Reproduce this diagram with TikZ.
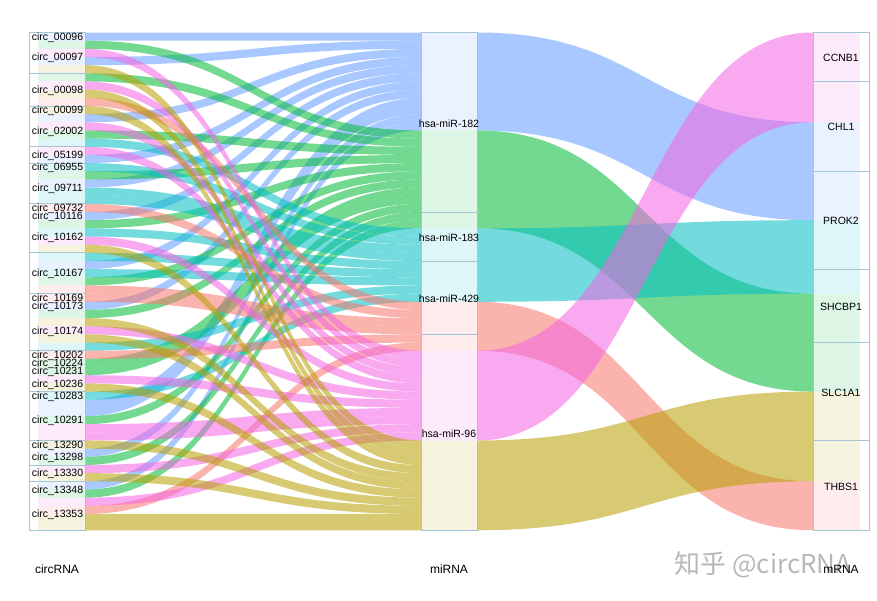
\documentclass[tikz,border=0pt]{standalone}
\usepackage{fontspec}
\setmainfont{Liberation Sans}
\newfontfamily\zhfont{Noto Sans CJK SC}
\definecolor{flowblue}{HTML}{619CFF}
\definecolor{flowgreen}{HTML}{00BA38}
\definecolor{flowcyan}{HTML}{00BFC4}
\definecolor{flowsalmon}{HTML}{F8766D}
\definecolor{flowpink}{HTML}{F564E3}
\definecolor{flowolive}{HTML}{B79F00}
\definecolor{boxline}{HTML}{A3C6D6}
\tikzset{
  flow/.style={fill opacity=.55},
  pale/.style={fill opacity=.13},
  stratum/.style={draw=boxline, line width=.8pt},
  lab/.style={font=\fontsize{10.5}{12}\selectfont, inner sep=0pt},
  axislab/.style={font=\fontsize{12}{14}\selectfont, inner sep=0pt},
}

\begin{document}
\begin{tikzpicture}[x=1pt, y=-1pt]

  \useasboundingbox (0,0) rectangle (877,600);
  \fill[white] (0,0) rectangle (877,600);

  \newcommand\Hs{8.16}   %% height of one link
  \newcommand\Ytop{32.5}
  \newcommand\Lx{85}
  \newcommand\Mx{421}
  \newcommand\Nx{477}
  \newcommand\Rx{813}

  %% circRNA -> miRNA, one thin flow per link
  \newcommand\linkflows[3]{%
    \foreach \l [count=\i from #2] in {#3} {
      \pgfmathsetmacro\ya{\Ytop+\l*\Hs}
      \pgfmathsetmacro\yb{\Ytop+\i*\Hs}
      \fill[#1, flow] (\Lx,\ya) .. controls (253,\ya) and (253,\yb) .. (\Mx,\yb)
        -- (\Mx,\yb+\Hs) .. controls (253,\yb+\Hs) and (253,\ya+\Hs) .. (\Lx,\ya+\Hs) -- cycle;
      \fill[#1, pale] (38,\ya) rectangle (\Lx,\ya+\Hs);
    }}

  \linkflows{flowblue}{0}{0,3,10,15,18,22,28,33,45,46,51,55}
  \linkflows{flowgreen}{12}{1,5,12,17,23,30,34,40,41,47,52,56}
  \linkflows{flowcyan}{24}{13,16,19,20,24,27,29,38,44}
  \linkflows{flowsalmon}{33}{8,21,31,32,39,58}
  \linkflows{flowpink}{39}{2,6,11,14,25,36,42,48,49,53,57}
  \linkflows{flowolive}{50}{4,7,9,26,35,37,43,50,54,59,60}

  %% miRNA -> mRNA, wide bands
  \foreach \c/\ma/\mb/\ra/\rb in {flowblue/0/12/11/23, flowgreen/12/24/32/44,
      flowcyan/24/33/23/32, flowsalmon/33/39/55/61, flowpink/39/50/0/11,
      flowolive/50/61/44/55} {
    \pgfmathsetmacro\ya{\Ytop+\ma*\Hs}
    \pgfmathsetmacro\yb{\Ytop+\mb*\Hs}
    \pgfmathsetmacro\yc{\Ytop+\ra*\Hs}
    \pgfmathsetmacro\yd{\Ytop+\rb*\Hs}
    \fill[\c, flow] (\Nx,\ya) .. controls (645,\ya) and (645,\yc) .. (\Rx,\yc)
      -- (\Rx,\yd) .. controls (645,\yd) and (645,\yb) .. (\Nx,\yb) -- cycle;
    \fill[\c, pale] (\Mx,\ya) rectangle (\Nx,\yb);
    \fill[\c, pale] (\Rx,\yc) rectangle (860,\yd);
  }

  %% strata
  \pgfmathsetmacro\Ybot{\Ytop+61*\Hs}
  \draw[stratum] (29,\Ytop) rectangle (\Lx,\Ybot);
  \draw[stratum] (\Mx,\Ytop) rectangle (\Nx,\Ybot);
  \draw[stratum] (\Rx,\Ytop) rectangle (869,\Ybot);
  \foreach \k in {5,9,14,16,21,27,32,39,44,50,53,55}
    \draw[stratum] (29,\Ytop+\k*\Hs) -- (\Lx,\Ytop+\k*\Hs);
  \foreach \k in {22,28,37}
    \draw[stratum] (\Mx,\Ytop+\k*\Hs) -- (\Nx,\Ytop+\k*\Hs);
  \foreach \k in {6,17,29,38,50}
    \draw[stratum] (\Rx,\Ytop+\k*\Hs) -- (869,\Ytop+\k*\Hs);

  %% labels
  \foreach \n/\s/\k in {00096/0/1, 00097/1/4, 00098/5/4, 00099/9/1, 02002/10/4,
      05199/14/2, 06955/16/1, 09711/17/4, 09732/21/1, 10116/22/1, 10162/23/4,
      10167/27/5, 10169/32/1, 10173/33/1, 10174/34/5, 10202/39/1, 10224/40/1,
      10231/41/1, 10236/42/2, 10283/44/1, 10291/45/5, 13290/50/1, 13298/51/2,
      13330/53/2, 13348/55/2, 13353/57/4}
    \node[lab] (circ\n) at (57.5,{\Ytop+1+(\s+\k/2)*\Hs}) {circ\_\n};

  \foreach \n/\s/\k in {182/0/22, 183/22/6, 429/28/9, 96/37/24}
    \node[lab] (mir\n) at (449,{\Ytop+1+(\s+\k/2)*\Hs}) {hsa-miR-\n};

  \foreach \n/\s/\k in {CCNB1/0/6, CHL1/6/11, PROK2/17/12, SHCBP1/29/9,
      SLC1A1/38/12, THBS1/50/11}
    \node[lab] (\n) at (841,{\Ytop+1+(\s+\k/2)*\Hs}) {\n};

  \node[anchor=west, text=black!28, font=\zhfont\fontsize{26}{30}\selectfont]
    (mark) at (671,565) {知乎 @circRNA};

  \node[axislab] (axisL) at (57,569) {circRNA};
  \node[axislab] (axisM) at (449,569) {miRNA};
  \node[axislab] (axisR) at (841,569) {mRNA};

\end{tikzpicture}
\end{document}
